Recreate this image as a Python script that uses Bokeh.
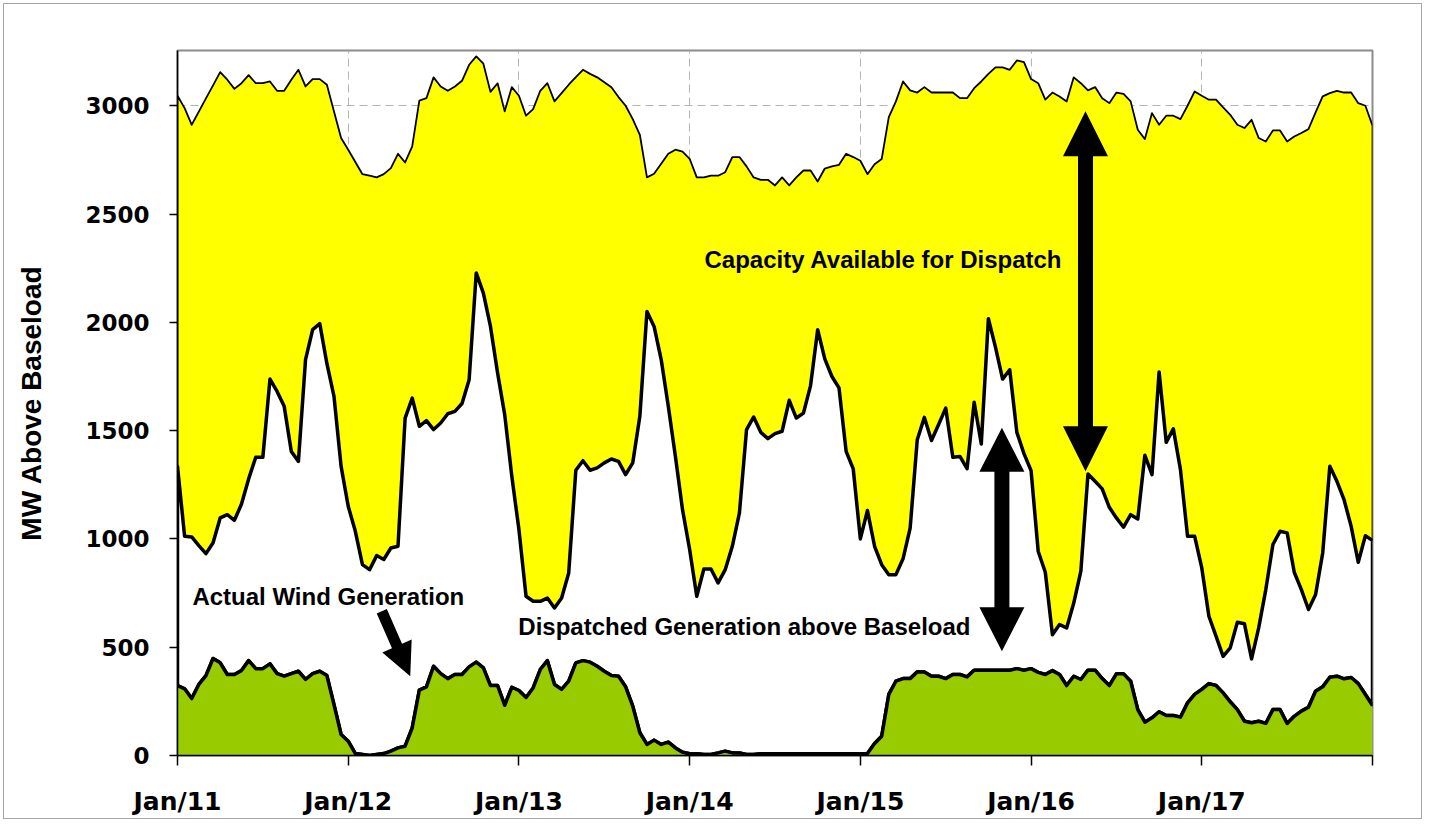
import math
from bokeh.plotting import figure
from bokeh.models import FixedTicker, Label, Range1d
from bokeh.embed import file_html
from bokeh.resources import INLINE

# ---------------- data ----------------
day_labels = ["Jan/11", "Jan/12", "Jan/13", "Jan/14", "Jan/15", "Jan/16", "Jan/17"]
y_ticks = [0, 500, 1000, 1500, 2000, 2500, 3000]

capacity = [
    3046, 2989, 2912, 2973, 3034, 3094, 3155, 3120, 3078, 3104, 3141, 3104,
    3104, 3112, 3069, 3069, 3120, 3166, 3089, 3123, 3123, 3097, 2973, 2851,
    2797, 2740, 2684, 2677, 2669, 2684, 2712, 2778, 2738, 2812, 3024, 3035,
    3131, 3089, 3069, 3089, 3115, 3189, 3228, 3194, 3064, 3104, 2974, 3086,
    3046, 2954, 2984, 3069, 3104, 3020, 3058, 3097, 3132, 3166, 3147, 3131,
    3108, 3085, 3040, 3000, 2938, 2866, 2669, 2686, 2732, 2778, 2797, 2788,
    2755, 2669, 2669, 2677, 2677, 2693, 2763, 2763, 2720, 2669, 2658, 2658,
    2632, 2669, 2632, 2669, 2701, 2701, 2650, 2710, 2720, 2727, 2778, 2763,
    2746, 2684, 2730, 2754, 2947, 3020, 3112, 3071, 3061, 3086, 3061, 3061,
    3061, 3061, 3035, 3035, 3081, 3112, 3147, 3177, 3177, 3166, 3209, 3201,
    3123, 3104, 3028, 3061, 3043, 3020, 3131, 3104, 3071, 3086, 3035, 3012,
    3061, 3055, 3020, 2889, 2846, 2966, 2912, 2954, 2954, 2938, 3000, 3066,
    3046, 3028, 3028, 2992, 2958, 2912, 2897, 2935, 2851, 2835, 2886, 2886,
    2835, 2858, 2874, 2892, 2969, 3043, 3058, 3069, 3061, 3061, 3012, 3000,
    2908,
]

dispatched = [
    1335, 1012, 1009, 969, 932, 982, 1097, 1112, 1086, 1161, 1277, 1377,
    1377, 1738, 1681, 1612, 1404, 1358, 1828, 1966, 1994, 1810, 1658, 1335,
    1151, 1035, 881, 858, 923, 905, 958, 966, 1558, 1650, 1520, 1546,
    1505, 1535, 1578, 1589, 1625, 1735, 2228, 2135, 1981, 1766, 1574, 1289,
    1043, 735, 712, 712, 727, 681, 727, 843, 1317, 1361, 1317, 1328,
    1351, 1369, 1358, 1297, 1351, 1566, 2050, 1981, 1828, 1612, 1381, 1135,
    951, 735, 861, 861, 797, 858, 966, 1120, 1505, 1563, 1492, 1463,
    1486, 1497, 1640, 1558, 1581, 1708, 1966, 1831, 1750, 1697, 1404, 1323,
    1000, 1131, 966, 881, 835, 835, 908, 1050, 1458, 1561, 1454, 1528,
    1604, 1377, 1381, 1324, 1631, 1438, 2017, 1884, 1738, 1781, 1492, 1394,
    1315, 943, 846, 558, 605, 589, 704, 851, 1300, 1266, 1231, 1146,
    1097, 1054, 1112, 1092, 1386, 1297, 1771, 1446, 1508, 1320, 1012, 1012,
    866, 643, 551, 458, 497, 615, 608, 446, 589, 766, 974, 1035,
    1028, 846, 766, 674, 743, 935, 1335, 1266, 1181, 1058, 892, 1015,
    993,
]

wind = [
    323, 308, 263, 328, 369, 448, 428, 374, 374, 392, 438, 401,
    401, 423, 378, 366, 378, 389, 351, 378, 389, 369, 235, 97,
    66, 9, 5, 0, 5, 9, 20, 35, 43, 128, 302, 317,
    412, 378, 355, 374, 374, 409, 431, 405, 323, 323, 232, 315,
    300, 268, 312, 397, 438, 328, 305, 343, 428, 438, 431, 412,
    389, 369, 366, 317, 228, 105, 51, 71, 51, 62, 35, 15,
    8, 8, 5, 5, 12, 20, 12, 12, 5, 5, 8, 8,
    8, 8, 8, 8, 8, 8, 8, 8, 8, 8, 8, 8,
    8, 9, 55, 89, 282, 343, 355, 355, 386, 386, 366, 366,
    355, 374, 374, 363, 394, 394, 394, 394, 394, 394, 401, 394,
    401, 384, 374, 392, 374, 323, 366, 351, 394, 394, 355, 323,
    377, 377, 343, 212, 154, 174, 202, 185, 185, 177, 243, 282,
    305, 332, 323, 289, 248, 212, 158, 151, 158, 148, 212, 212,
    148, 181, 205, 223, 297, 317, 361, 366, 354, 360, 332, 282,
    231,
]

hours = list(range(len(capacity)))

# ---------------- layout constants ----------------
X_MAX = 24 * len(day_labels)
Y_MAX = 3255
FRAME_W, FRAME_H = 1195, 705
PX_H = FRAME_W / X_MAX
PX_MW = FRAME_H / Y_MAX

p = figure(
    frame_width=FRAME_W, frame_height=FRAME_H,
    x_range=Range1d(0, X_MAX), y_range=Range1d(0, Y_MAX),
    output_backend="svg", toolbar_location=None,
    min_border_left=173, min_border_right=49,
    min_border_top=46, min_border_bottom=63,
    background_fill_color="white", border_fill_color="white",
)
p.styles = {"border": "1px solid #a6a6a6", "margin-left": "3px", "margin-top": "3px"}
p.outline_line_color = "#8c8c8c"
p.outline_line_width = 2

# ---------------- areas ----------------
p.patch(hours + hours[::-1], capacity + dispatched[::-1],
        fill_color="#FFFF00", line_color="black", line_width=1.8,
        line_join="round")
p.patch(hours + hours[::-1], dispatched + wind[::-1],
        fill_color="white", line_color="black", line_width=3.5,
        line_join="round")
p.varea(x=hours, y1=[0] * len(wind), y2=wind, fill_color="#99CC00")
p.line(hours, wind, line_color="black", line_width=3.5, line_join="round")

# ---------------- arrows ----------------
def arrow_poly(x0, y0, x1, y1, shaft, head_w, head_l, both):
    ax, ay = x0 * PX_H, y0 * PX_MW
    bx, by = x1 * PX_H, y1 * PX_MW
    L = math.hypot(bx - ax, by - ay)
    ux, uy = (bx - ax) / L, (by - ay) / L
    nx, ny = -uy, ux
    if both:
        pts = [(0, 0), (head_l, head_w / 2), (head_l, shaft / 2),
               (L - head_l, shaft / 2), (L - head_l, head_w / 2), (L, 0),
               (L - head_l, -head_w / 2), (L - head_l, -shaft / 2),
               (head_l, -shaft / 2), (head_l, -head_w / 2)]
    else:
        pts = [(0, shaft / 2), (L - head_l, shaft / 2),
               (L - head_l, head_w / 2), (L, 0),
               (L - head_l, -head_w / 2), (L - head_l, -shaft / 2),
               (0, -shaft / 2)]
    xs = [(ax + t * ux + s * nx) / PX_H for t, s in pts]
    ys = [(ay + t * uy + s * ny) / PX_MW for t, s in pts]
    return xs, ys

arrows = [
    (127.65, 2975, 127.65, 1312, 15, 45, 45, True),
    (115.9, 1513, 115.9, 481, 15, 45, 44, True),
    (28.72, 666, 32.72, 366, 11, 32, 33, False),
]
axs, ays = [], []
for a in arrows:
    xs, ys = arrow_poly(*a)
    axs.append(xs)
    ays.append(ys)
p.patches(axs, ays, fill_color="black", line_color=None)

# ---------------- labels ----------------
def add_label(x, y, txt):
    p.add_layout(Label(x=x, y=y, text=txt, text_align="center",
                       text_baseline="alphabetic", text_font="Liberation Sans",
                       text_font_style="bold", text_font_size="24px",
                       text_color="black"))

add_label(99.25, 2290, "Capacity Available for Dispatch")
add_label(21.2, 733, "Actual Wind Generation")
add_label(79.7, 597, "Dispatched Generation above Baseload")

# ---------------- axes & grid ----------------
day_ticks = [24 * i for i in range(len(day_labels) + 1)]
p.xaxis.ticker = FixedTicker(ticks=day_ticks)
overrides = {24 * i: lab for i, lab in enumerate(day_labels)}
overrides[day_ticks[-1]] = ""
p.xaxis.major_label_overrides = overrides
p.yaxis.ticker = FixedTicker(ticks=y_ticks)
p.xgrid.ticker = FixedTicker(ticks=day_ticks)
p.ygrid.ticker = FixedTicker(ticks=y_ticks)

for g in (p.xgrid, p.ygrid):
    g.grid_line_color = "#b3b3b3"
    g.grid_line_dash = "8 5"
    g.grid_line_width = 1

for ax in (p.xaxis, p.yaxis):
    ax.axis_line_color = "black"
    ax.axis_line_width = 1.5
    ax.major_tick_line_color = "black"
    ax.major_tick_line_width = 1.5
    ax.major_tick_in = 0
    ax.minor_tick_line_color = None
    ax.major_label_text_font = "DejaVu Sans"
    ax.major_label_text_font_style = "bold"
    ax.major_label_text_color = "black"

p.xaxis.major_tick_out = 10
p.xaxis.major_label_standoff = 21
p.xaxis.major_label_text_font_size = "25px"
p.yaxis.major_tick_out = 8
p.yaxis.major_label_standoff = 20
p.yaxis.major_label_text_font_size = "23px"

p.yaxis.axis_label = "MW Above Baseload"
p.yaxis.axis_label_text_font = "Liberation Sans"
p.yaxis.axis_label_text_font_style = "bold"
p.yaxis.axis_label_text_font_size = "28px"
p.yaxis.axis_label_text_color = "black"
p.yaxis.axis_label_standoff = 35

open("out.html", "w").write(file_html(p, INLINE))
